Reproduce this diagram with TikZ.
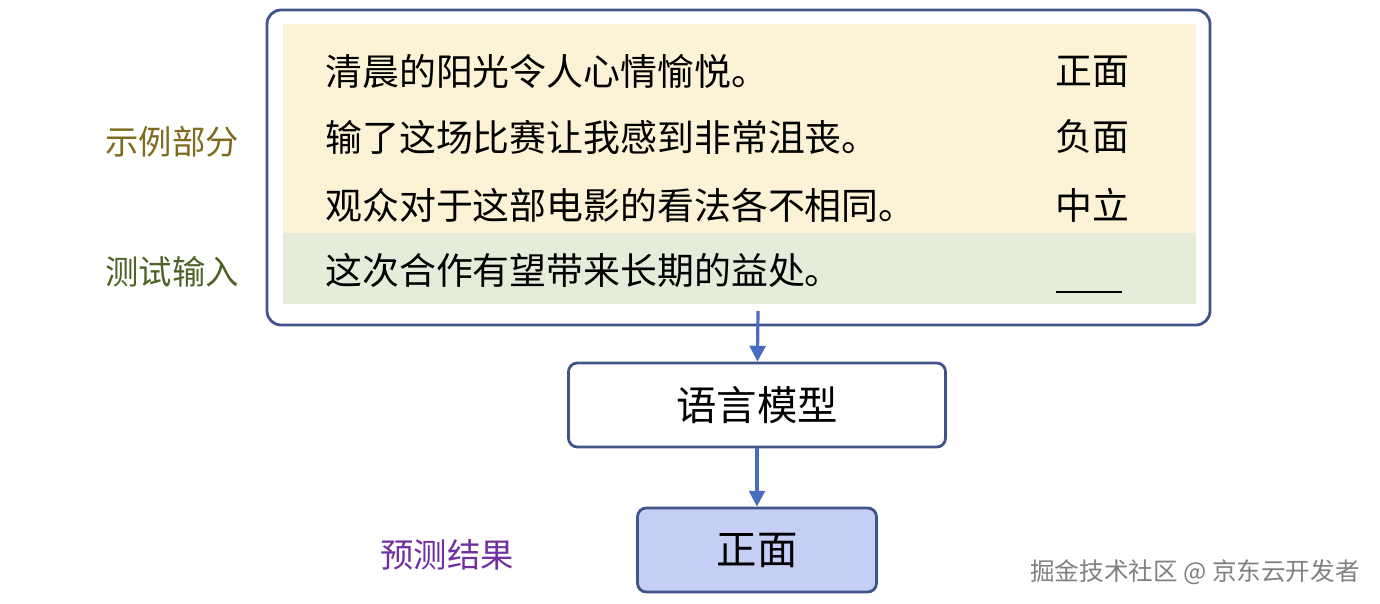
\documentclass[tikz,border=0pt]{standalone}
\usepackage{fontspec}
\setmainfont{Noto Sans CJK SC}
\usetikzlibrary{positioning,arrows.meta}
\definecolor{frame}{HTML}{3F5589}
\definecolor{demo}{HTML}{FCF3D7}
\definecolor{test}{HTML}{E5ECD9}
\definecolor{predfill}{HTML}{C5CEF4}
\definecolor{arrowc}{HTML}{4A6CC0}
\definecolor{demotext}{HTML}{7F6A1E}
\definecolor{testtext}{HTML}{4F6228}
\definecolor{predtext}{HTML}{7030A0}
\tikzset{
  sent/.style={anchor=west,inner sep=0pt,font=\fontsize{21}{24}\selectfont},
  tag/.style={inner sep=0pt,font=\fontsize{21}{24}\selectfont},
  side/.style={inner sep=0pt,font=\fontsize{19}{22}\selectfont},
  stage/.style={draw=frame,line width=1.6pt,rounded corners=5pt,inner sep=0pt,font=\fontsize{23}{26}\selectfont},
  flow/.style={draw=arrowc,line width=1.8pt,-{Triangle[length=9pt,width=9pt]}}
}
\begin{document}
\begin{tikzpicture}[x=0.02cm,y=-0.02cm]
\useasboundingbox (0,0) rectangle (1380,604);
% prompt panel
\fill[demo] (283,24) rectangle (1196,233);
\fill[test] (283,233) rectangle (1196,304);
\draw[frame,line width=1.6pt,rounded corners=8pt] (267,10) rectangle (1210,325);
\coordinate (prompt) at (758,311);
\foreach \n/\y/\s/\l in {
1/72/{清晨的阳光令人心情愉悦。}/{正面},
2/137/{输了这场比赛让我感到非常沮丧。}/{负面},
3/205/{观众对于这部电影的看法各不相同。}/{中立},
4/270/{这次合作有望带来长期的益处。}/{}
}
{
  \node[sent] (s\n) at (325,\y) {\s};
  \node[tag] (t\n) at (1092,\y) {\l};
}
\draw[line width=1.2pt] (1056,292) -- (1122,292);
\node[side,text=demotext] (demolab) at (172,142) {示例部分};
\node[side,text=testtext] (testlab) at (172,272) {测试输入};
% model and prediction
\node[stage,minimum width=377*0.02cm,minimum height=84*0.02cm] (lm) at (757,405) {语言模型};
\node[stage,fill=predfill,minimum width=239*0.02cm,minimum height=84*0.02cm] (pred) at (757,550) {正面};
\node[side,text=predtext] (predlab) at (447,555) {预测结果};
\draw[flow] (prompt) -- (lm);
\draw[flow] (lm) -- (pred);
\node[inner sep=0pt,text=gray,font=\fontsize{14}{16}\selectfont] (mark) at (1195,572) {掘金技术社区 @ 京东云开发者};
\end{tikzpicture}
\end{document}
